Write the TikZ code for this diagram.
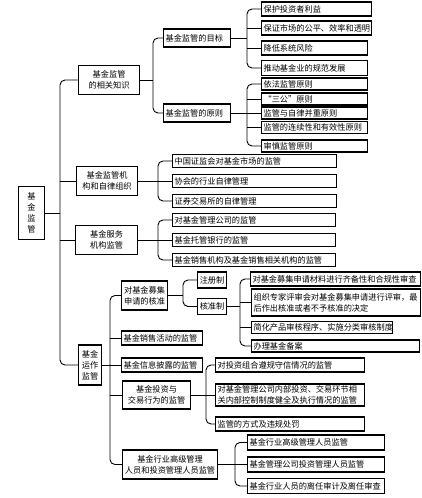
\documentclass[tikz,border=0pt]{standalone}
\usepackage{fontspec}
\newfontfamily\cjk{Noto Sans CJK SC}

\begin{document}
\begin{tikzpicture}[x=1pt, y=-1pt,
  box/.style={draw, line width=1.1pt, inner xsep=2pt, inner ysep=1pt, minimum height=13pt, anchor=west, font=\cjk\fontsize{8.2}{11}\selectfont},
  lbox/.style={box, text width=#1, align=left},
  cbox/.style={box, text width=#1, align=center},
  link/.style={line width=0.9pt, rounded corners=5pt}]
\useasboundingbox (0,0) rectangle (422,498);

\node[cbox=22, minimum height=53pt] (root) at (18,213) {基\\金\\监\\管};

\node[cbox=57, minimum height=29pt] (kn) at (78,80) {基金监管\\的相关知识};
\node[cbox=57, minimum height=29pt] (org) at (76,181) {基金监管机\\构和自律组织};
\node[cbox=58, minimum height=29pt] (svc) at (75,240) {基金服务\\机构监管};
\node[cbox=19, minimum height=40pt] (op) at (78,365) {基金\\运作\\监管};

\node[lbox=63, minimum height=18pt] (goal) at (163,38) {基金监管的目标};
\node[lbox=63, minimum height=18pt] (prin) at (163,113) {基金监管的原则};

\node[lbox=106, minimum height=14pt] (g1) at (261,9) {保护投资者利益};
\node[lbox=106, minimum height=14pt] (g2) at (261,28) {保证市场的公平、效率和透明};
\node[lbox=102, minimum height=14pt] (g3) at (261,48) {降低系统风险};
\node[lbox=102, minimum height=15pt] (g4) at (261,68) {推动基金业的规范发展};

\node[lbox=102, minimum height=12pt] (p1) at (261,84) {依法监管原则};
\node[lbox=102, minimum height=12pt] (p2) at (261,99) {“三公”原则};
\node[lbox=102, minimum height=12pt] (p3) at (261,113) {监管与自律并重原则};
\node[lbox=102, minimum height=12pt] (p4) at (261,127.5) {监管的连续性和有效性原则};
\node[lbox=102, minimum height=12pt] (p5) at (261,146) {审慎监管原则};

\node[lbox=160] (o1) at (172,161) {中国证监会对基金市场的监管};
\node[lbox=160] (o2) at (172,181) {协会的行业自律管理};
\node[lbox=160] (o3) at (172,201) {证券交易所的自律管理};

\node[lbox=159] (s1) at (172,220) {对基金管理公司的监管};
\node[lbox=159] (s2) at (172,240) {基金托管银行的监管};
\node[lbox=159] (s3) at (172,260) {基金销售机构及基金销售相关机构的监管};

\node[cbox=42, minimum height=29pt] (a1) at (121,295.5) {对基金募集\\申请的核准};
\node[lbox=77, minimum height=14pt] (a2) at (121,338) {基金销售活动的监管};
\node[lbox=77, minimum height=14pt] (a3) at (121,365) {基金信息披露的监管};
\node[cbox=64, minimum height=28pt] (a4) at (122,395) {基金投资与\\交易行为的监管};
\node[cbox=91, minimum height=29pt] (a5) at (122,464.5) {基金行业高级管理\\人员和投资管理人员监管};

\node[cbox=25, minimum height=16pt] (r1) at (197,280) {注册制};
\node[cbox=25, minimum height=16pt] (r2) at (197,306.5) {核准制};

\node[lbox=166, minimum height=14pt] (c1) at (250,279) {对基金募集申请材料进行齐备性和合规性审查};
\node[lbox=165, minimum height=27pt] (c2) at (251,302.5) {组织专家评审会对基金募集申请进行评审，最\\后作出核准或者不予核准的决定};
\node[lbox=137, minimum height=12pt] (c3) at (251,327.5) {简化产品审核程序、实施分类审核制度};
\node[lbox=164, minimum height=12pt] (c4) at (251,346) {办理基金备案};

\node[lbox=145, minimum height=14pt] (d1) at (215,365) {对投资组合遵规守信情况的监管};
\node[lbox=145, minimum height=22pt] (d2) at (215,395) {对基金管理公司内部投资、交易环节相\\关内部控制制度健全及执行情况的监管};
\node[lbox=145, minimum height=14pt] (d3) at (215,424) {监管的方式及违规处罚};

\node[lbox=133, minimum height=15pt] (e1) at (247,442.5) {基金行业高级管理人员监管};
\node[lbox=133, minimum height=15pt] (e2) at (247,464.5) {基金管理公司投资管理人员监管};
\node[lbox=133, minimum height=15pt] (e3) at (247,486) {基金行业人员的离任审计及离任审查};

\coordinate (t0) at (60,213);
\coordinate (b1) at (153,80);
\coordinate (b2) at (247,38);
\coordinate (b3) at (247,113);
\coordinate (b4) at (158,181);
\coordinate (b5) at (158,240);
\coordinate (b6) at (110,365);
\coordinate (b7) at (183,295.5);
\coordinate (b8) at (240,306.5);
\coordinate (b9) at (206,395);
\coordinate (b10) at (235,464.5);

\draw[link] (root.east) -- (t0);
\draw[link] (kn.west) -| (t0) |- (op.west);
\foreach \n in {org,svc} \draw[link] (\n.west) -- (\n.west -| t0);

\draw[link] (kn.east) -- (b1);
\draw[link] (goal.west) -| (b1) |- (prin.west);

\draw[link] (goal.east) -- (b2);
\draw[link] (g1.west) -| (b2) |- (g4.west);
\foreach \n in {g2,g3} \draw[link] (\n.west) -- (\n.west -| b2);

\draw[link] (prin.east) -- (b3);
\draw[link] (p1.west) -| (b3) |- (p5.west);
\foreach \n in {p2,p3,p4} \draw[link] (\n.west) -- (\n.west -| b3);

\draw[link] (org.east) -- (b4);
\draw[link] (o1.west) -| (b4) |- (o3.west);
\draw[link] (o2.west) -- (o2.west -| b4);

\draw[link] (svc.east) -- (b5);
\draw[link] (s1.west) -| (b5) |- (s3.west);
\draw[link] (s2.west) -- (s2.west -| b5);

\draw[link] (op.east) -- (b6);
\draw[link] (a1.west) -| (b6) |- (a5.west);
\foreach \n in {a2,a3,a4} \draw[link] (\n.west) -- (\n.west -| b6);

\draw[link] (a1.east) -- (b7);
\draw[link] (r1.west) -| (b7) |- (r2.west);

\draw[link] (r2.east) -- (b8);
\draw[link] (c1.west) -| (b8) |- (c4.west);
\foreach \n in {c2,c3} \draw[link] (\n.west) -- (\n.west -| b8);

\draw[link] (a4.east) -- (b9);
\draw[link] (d1.west) -| (b9) |- (d3.west);
\draw[link] (d2.west) -- (d2.west -| b9);

\draw[link] (a5.east) -- (b10);
\draw[link] (e1.west) -| (b10) |- (e3.west);
\draw[link] (e2.west) -- (e2.west -| b10);

\end{tikzpicture}
\end{document}
